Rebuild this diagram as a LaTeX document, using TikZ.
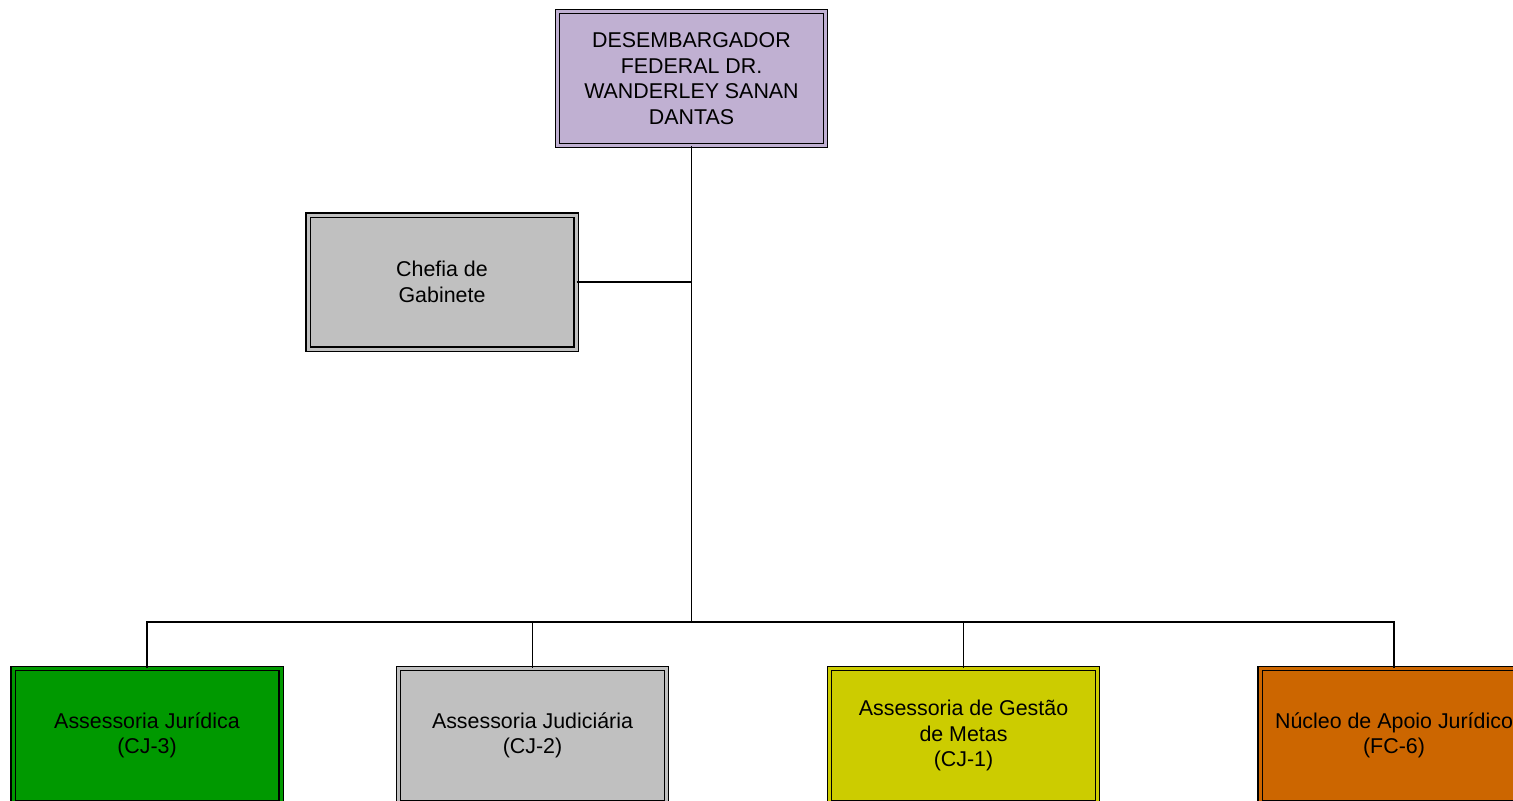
\documentclass[tikz,border=0pt]{standalone}
\usepackage{fontspec}
\setmainfont{Liberation Sans}
\usetikzlibrary{positioning}

\definecolor{chiefcol}{RGB}{192,176,210}
\definecolor{greycol}{RGB}{192,192,192}
\definecolor{greencol}{RGB}{0,153,0}
\definecolor{yellowcol}{RGB}{204,204,0}
\definecolor{orangecol}{RGB}{204,102,0}

\tikzset{
  unit/.style={draw, fill=#1, double=#1, double distance=1.5pt, line width=0.7pt,
    minimum width=134pt, minimum height=67pt, align=center,
    font=\fontsize{10.7}{12.8}\selectfont, inner sep=2pt},
  link/.style={line width=0.8pt}
}

\begin{document}
\begin{tikzpicture}[x=0.5pt, y=-0.5pt]
  \useasboundingbox (0,0) rectangle (1513,800);

  \node[unit=chiefcol] (chief) at (691.5,78.5)
    {DESEMBARGADOR\\FEDERAL DR.\\WANDERLEY SANAN\\DANTAS};
  \node[unit=greycol] (chefia) at (442,282) {Chefia de\\Gabinete};

  \node[unit=greencol]  (cj3) at (147,735.5)  {Assessoria Jurídica\\(CJ-3)};
  \node[unit=greycol]   (cj2) at (532.5,735.5) {Assessoria Judiciária\\(CJ-2)};
  \node[unit=yellowcol] (cj1) at (963.5,735.5) {Assessoria de Gestão\\de Metas\\(CJ-1)};
  \node[unit=orangecol] (fc6) at (1394,735.5)  {Núcleo de Apoio Jurídico\\(FC-6)};

  \coordinate (bus) at (691.5,622);

  \draw[link] (chief.south) -- (bus);
  \draw[link] (chefia.east) -- (chefia.east -| chief.south);
  \foreach \n in {cj3,cj2,cj1,fc6}
    \draw[link] (bus) -| (\n.north);
\end{tikzpicture}
\end{document}
